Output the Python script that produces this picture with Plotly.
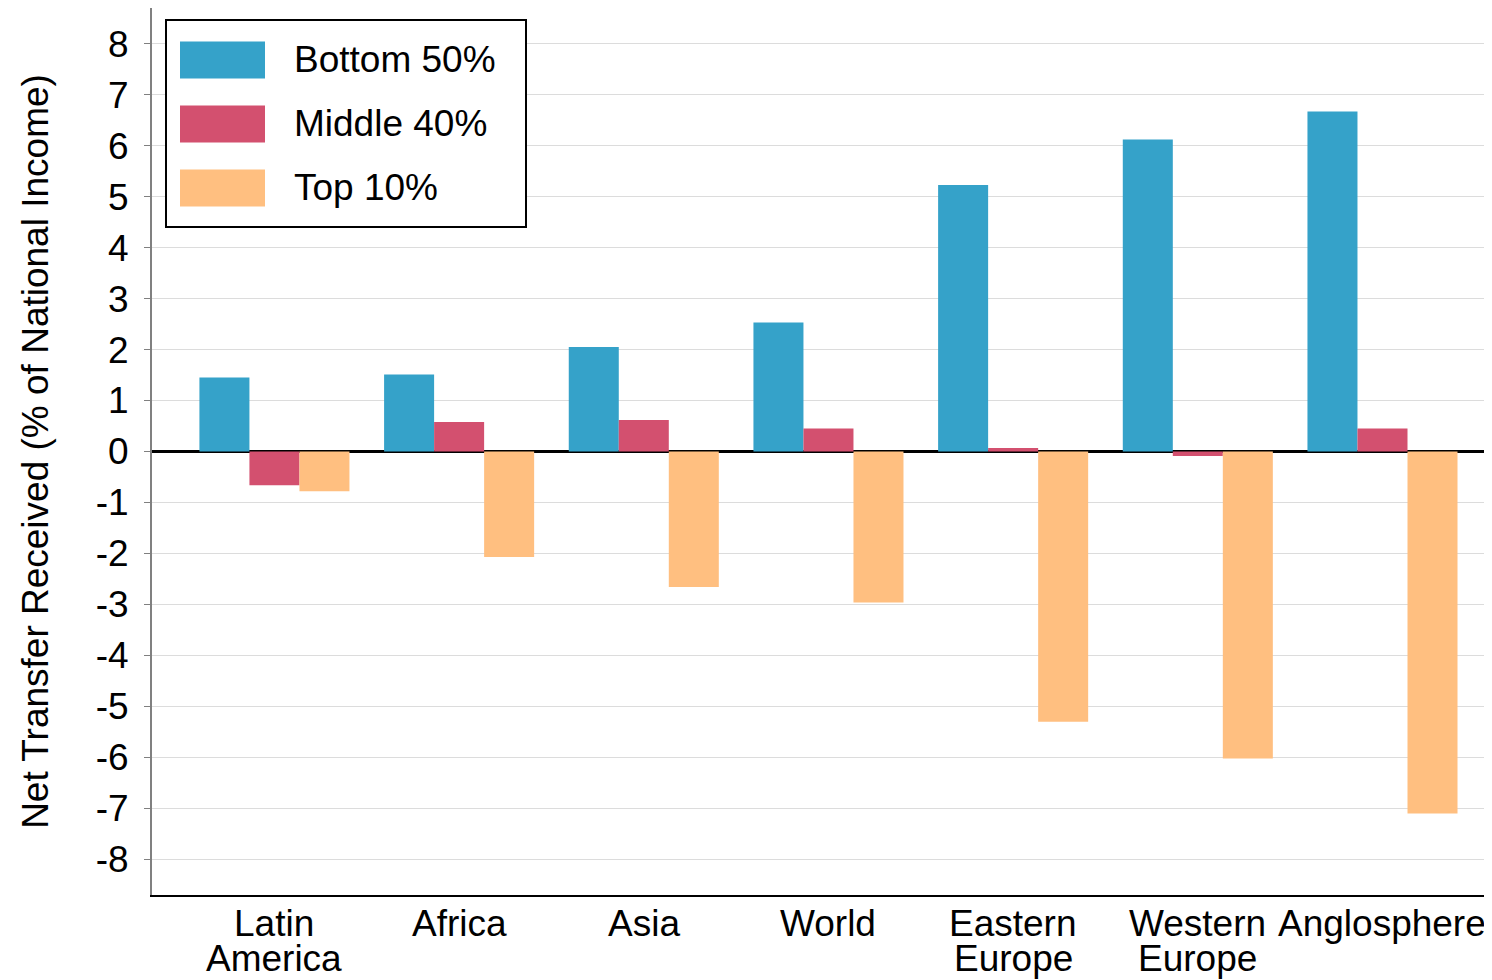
import plotly.graph_objects as go

categories = ["Latin America", "Africa", "Asia", "World", "Eastern Europe", "Western Europe", "Anglosphere"]
label_lines = [["Latin", "America"], ["Africa"], ["Asia"], ["World"],
               ["Eastern", "Europe"], ["Western", "Europe"], ["Anglosphere"]]
series_names = ["Bottom 50%", "Middle 40%", "Top 10%"]
bottom50 = [1.45, 1.51, 2.05, 2.53, 5.23, 6.12, 6.67]
middle40 = [-0.66, 0.58, 0.62, 0.45, 0.07, -0.09, 0.45]
top10 = [-0.78, -2.07, -2.66, -2.96, -5.30, -6.02, -7.10]
colors = ["#35A2C9", "#D3506F", "#FFBF80"]
y_ticks = list(range(-8, 9))

OFF = 8  # page body margin
W, H = 1492 - OFF, 980 - OFF
ML, MR, MT, MB = 144, 0, 0, 85

fig = go.Figure()
for name, vals, col in zip(series_names, [bottom50, middle40, top10], colors):
    fig.add_trace(go.Bar(x=categories, y=vals, name=name, marker_color=col,
                         marker_line_width=0, showlegend=False))

FONT = "Liberation Sans, Arial, sans-serif"
FS = 37
fig.update_layout(
    width=W, height=H,
    margin=dict(l=ML, r=MR, t=MT, b=MB),
    paper_bgcolor="white", plot_bgcolor="white",
    barmode="group", bargap=0.1875, bargroupgap=0,
    font=dict(family=FONT, size=FS, color="black"),
)
fig.update_xaxes(
    type="category", range=[-0.663, 6.593],
    showgrid=False, showline=True, linecolor="black", linewidth=2,
    ticks="", showticklabels=False, mirror=False,
)
fig.update_yaxes(
    range=[-8.7, 8.7], tickvals=y_ticks, ticktext=[str(v) for v in y_ticks],
    showgrid=True, gridcolor="#dcdcdc", gridwidth=1,
    zeroline=True, zerolinecolor="black", zerolinewidth=3,
    showline=True, linecolor="#808080", linewidth=2,
    ticks="outside", ticklen=6, tickcolor="#808080", tickwidth=1,
    tickfont=dict(size=FS), ticklabelstandoff=8,
    title=dict(text="Net Transfer Received (% of National Income)", font=dict(size=FS), standoff=36),
)

# category labels (two-line labels with tighter line spacing)
line_shifts = [-28, -63]
for cat, lines in zip(categories, label_lines):
    for i, ln in enumerate(lines):
        fig.add_annotation(xref="x", yref="paper", x=cat, y=0, text=ln,
                           showarrow=False, xanchor="center", yanchor="middle",
                           yshift=line_shifts[i],
                           font=dict(size=FS, color="black", family=FONT))

# Custom legend (paper coordinates derived from page pixel layout)
pw = W - ML - MR
ph = H - MT - MB
def px(x):
    return (x - OFF - ML) / pw
def py(y):
    return (H - MB - (y - OFF)) / ph

fig.add_shape(type="rect", xref="paper", yref="paper",
              x0=px(166), x1=px(526), y0=py(227), y1=py(20),
              line=dict(color="black", width=2), fillcolor="white", layer="above")
row_centers = [60, 124, 188]
for name, col, yc in zip(series_names, colors, row_centers):
    fig.add_shape(type="rect", xref="paper", yref="paper",
                  x0=px(180), x1=px(265), y0=py(yc + 18.5), y1=py(yc - 18.5),
                  line=dict(width=0), fillcolor=col, layer="above")
    fig.add_annotation(xref="paper", yref="paper", x=px(292), y=py(yc),
                       text=name, showarrow=False, xanchor="left", yanchor="middle",
                       font=dict(size=FS, color="black", family=FONT))

fig.write_html("out.html")
